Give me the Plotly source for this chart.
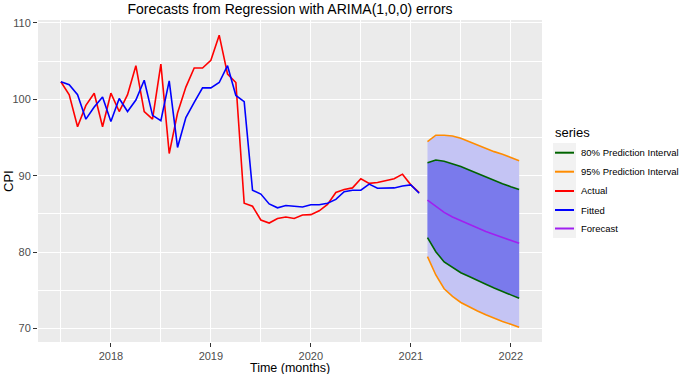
import plotly.graph_objects as go

# ---- data ----
start_year = 2017.5          # July 2017, monthly series
actual = [102.3, 100.6, 96.4, 99.2, 100.8, 96.4, 100.8, 98.4, 100.6, 104.4,
          98.4, 97.4, 104.6, 92.9, 98.2, 101.6, 104.1, 104.1, 105.1, 108.4,
          103.3, 102.2, 86.4, 86.0, 84.2, 83.8, 84.4, 84.6, 84.4, 84.85,
          84.9, 85.4, 86.25, 87.8, 88.2, 88.4, 89.6, 89.0, 89.1, 89.3,
          89.6, 90.2, 88.8, 87.8]
fitted = [102.3, 101.9, 100.6, 97.4, 99.0, 100.3, 97.1, 100.1, 98.4, 99.9,
          102.5, 97.9, 97.2, 102.4, 93.7, 97.6, 99.6, 101.5, 101.5, 102.2,
          104.4, 100.5, 99.7, 88.1, 87.6, 86.3, 85.8, 86.1, 86.0, 85.9,
          86.2, 86.2, 86.4, 86.9, 87.9, 88.1, 88.1, 88.9, 88.35, 88.35,
          88.4, 88.65, 88.8, 87.7]
forecast = [86.8, 85.95, 85.2, 84.6, 84.1, 83.6, 83.1, 82.7, 82.3, 81.9, 81.5, 81.15]
hi80 = [91.7, 92.05, 91.9, 91.6, 91.2, 90.75, 90.3, 89.8, 89.35, 88.95, 88.56, 88.2]
lo80 = [81.9, 80.05, 78.7, 77.95, 77.3, 76.8, 76.25, 75.8, 75.3, 74.8, 74.4, 73.95]
hi95 = [94.45, 95.3, 95.3, 95.2, 94.9, 94.45, 94.0, 93.6, 93.15, 92.8, 92.4, 91.96]
lo95 = [79.4, 77.0, 75.2, 74.2, 73.4, 72.8, 72.3, 71.8, 71.3, 70.9, 70.55, 70.15]
x_ticks = [2018, 2019, 2020, 2021, 2022]
y_ticks = [70, 80, 90, 100, 110]
legend_labels = ["80% Prediction Interval", "95% Prediction Interval", "Actual", "Fitted", "Forecast"]

t_hist = [start_year + i / 12 for i in range(len(actual))]
t_fc = [start_year + (len(actual) + i) / 12 for i in range(len(forecast))]

GREEN = "#006400"
ORANGE = "#FF8C00"
RED = "#FF0000"
BLUE = "#0000FF"
PURPLE = "#A020F0"
legend_colors = [GREEN, ORANGE, RED, BLUE, PURPLE]

W, H = 685, 374
ML, MR, MT, MB = 38, 143, 20, 32
PW, PH = W - ML - MR, H - MT - MB


def px_x(p):
    return (p - ML) / PW


def px_y(p):
    return (H - MB - p) / PH


fig = go.Figure()
lw = 1.6
fig.add_trace(go.Scatter(x=t_fc, y=hi95, mode="lines", line=dict(color=ORANGE, width=lw),
                         name="95% Prediction Interval", showlegend=False))
fig.add_trace(go.Scatter(x=t_fc, y=lo95, mode="lines", line=dict(color=ORANGE, width=lw),
                         fill="tonexty", fillcolor="#C4C4F4", showlegend=False))
fig.add_trace(go.Scatter(x=t_fc, y=hi80, mode="lines", line=dict(color=GREEN, width=lw),
                         name="80% Prediction Interval", showlegend=False))
fig.add_trace(go.Scatter(x=t_fc, y=lo80, mode="lines", line=dict(color=GREEN, width=lw),
                         fill="tonexty", fillcolor="#7A7AEC", showlegend=False))
fig.add_trace(go.Scatter(x=t_hist, y=actual, mode="lines", line=dict(color=RED, width=lw),
                         name="Actual", showlegend=False))
fig.add_trace(go.Scatter(x=t_hist, y=fitted, mode="lines", line=dict(color=BLUE, width=lw),
                         name="Fitted", showlegend=False))
fig.add_trace(go.Scatter(x=t_fc, y=forecast, mode="lines", line=dict(color=PURPLE, width=lw),
                         name="Forecast", showlegend=False))

# manual legend (ggplot style)
shapes = [dict(type="rect", xref="paper", yref="paper",
               x0=px_x(553), x1=px_x(576), y0=px_y(238), y1=px_y(143),
               fillcolor="#F2F2F2", line=dict(width=0), layer="below")]
annotations = [dict(text="series", x=px_x(553), y=px_y(132), xref="paper", yref="paper",
                    xanchor="left", yanchor="middle", showarrow=False,
                    font=dict(size=13, color="black"))]
entry_y = [152.7, 171.7, 191, 210, 228.5]
for lab, col, yy in zip(legend_labels, legend_colors, entry_y):
    shapes.append(dict(type="line", xref="paper", yref="paper",
                       x0=px_x(555), x1=px_x(574), y0=px_y(yy), y1=px_y(yy),
                       line=dict(color=col, width=2)))
    annotations.append(dict(text=lab, x=px_x(579), y=px_y(yy), xref="paper", yref="paper",
                            xanchor="left", yanchor="middle", showarrow=False,
                            font=dict(size=9.5, color="black")))

annotations += [
    dict(text="Time (months)", x=0.5, xref="paper", y=px_y(368), yref="paper",
         xanchor="center", yanchor="middle", showarrow=False, font=dict(size=12.5, color="black")),
    dict(text="CPI", x=px_x(8), xref="paper", y=0.5, yref="paper", textangle=-90,
         xanchor="center", yanchor="middle", showarrow=False, font=dict(size=13, color="black")),
]

tickfont = dict(family="Liberation Sans, Arial, sans-serif", size=11, color="#4D4D4D")
fig.update_layout(
    width=W, height=H,
    margin=dict(l=ML, r=MR, t=MT, b=MB, autoexpand=False),
    paper_bgcolor="white",
    plot_bgcolor="#EBEBEB",
    showlegend=False,
    font=dict(family="Liberation Sans, Arial, sans-serif", color="black"),
    title=dict(text="Forecasts from Regression with ARIMA(1,0,0) errors",
               x=0.5, xref="paper", xanchor="center",
               y=1 - 9 / H, yref="container", yanchor="middle",
               font=dict(size=14, color="black")),
    xaxis=dict(range=[2017.271, 2022.312], tickvals=x_ticks, ticktext=[str(v) for v in x_ticks],
               showgrid=True, gridcolor="white", gridwidth=1.1, zeroline=False,
               ticks="outside", ticklen=4, tickcolor="#333333", tickwidth=1,
               tickfont=tickfont, showline=False,
               minor=dict(tickvals=[2017.5, 2018.5, 2019.5, 2020.5, 2021.5, 2022.5],
                          showgrid=True, gridcolor="white", gridwidth=0.5, ticks="")),
    yaxis=dict(range=[68.23, 110.38], tickvals=y_ticks, ticktext=[str(v) for v in y_ticks],
               showgrid=True, gridcolor="white", gridwidth=1.1, zeroline=False,
               ticks="outside", ticklen=4, tickcolor="#333333", tickwidth=1,
               tickfont=tickfont, showline=False,
               minor=dict(tickvals=[75, 85, 95, 105],
                          showgrid=True, gridcolor="white", gridwidth=0.5, ticks="")),
    shapes=shapes,
    annotations=annotations,
)

fig.write_html(
    "out.html",
    config={"displayModeBar": False},
    post_script="document.body.style.margin='0';document.body.style.overflow='hidden';",
)
